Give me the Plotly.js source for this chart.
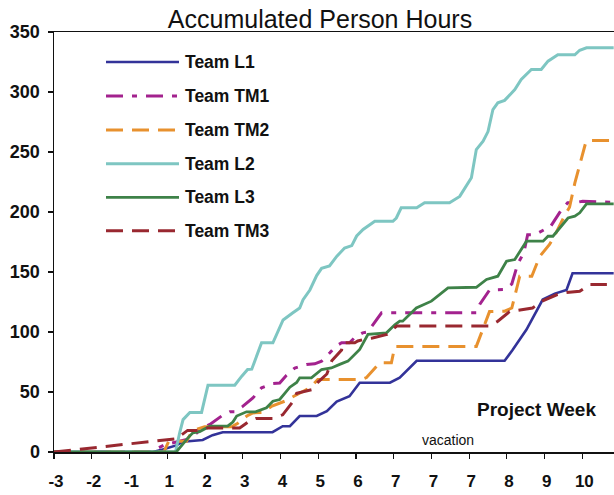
<!DOCTYPE html>
<html>
<head>
<meta charset="utf-8">
<script src="https://cdn.plot.ly/plotly-3.0.1.min.js"></script>
<style>html,body{margin:0;padding:0;background:#fff;}#chart{width:614px;height:495px;}</style>
</head>
<body>
<div id="chart"></div>
<script>
// Week tick labels (equally spaced positions)
const weekLabels = ["-3","-2","-1","1","2","3","4","5","6","7","7","7","8","9","10"];
const seriesNames = ["Team L1","Team TM1","Team TM2","Team L2","Team L3","Team TM3"];

// x in week-slot units (0 = first tick), y = accumulated person hours
const l1X = [0, 2.62, 2.88, 3.24, 3.41, 3.94, 4.2, 4.47, 5.79, 5.93, 6.06, 6.25, 6.51, 6.96, 7.23, 7.49, 7.83, 8.1, 8.9, 9.16, 9.61, 11.94, 12.15, 12.52, 12.95, 13.27, 13.58, 13.74, 14.83];
const l1Y = [0, 0, 2, 5.5, 8.5, 10, 14, 16.5, 16.5, 19, 21.5, 21.5, 30, 30, 34, 42, 46.5, 57.7, 57.7, 62, 76, 76, 85, 102, 127, 132, 135, 149, 149];

const tm1X = [0, 2.54, 2.93, 3.33, 3.52, 3.75, 3.94, 4.13, 4.44, 4.66, 4.79, 5.0, 5.27, 5.5, 5.58, 5.8, 5.98, 6.16, 6.38, 6.69, 6.91, 7.09, 7.31, 7.46, 7.62, 7.83, 7.99, 8.18, 8.31, 8.44, 8.68, 11.19, 11.28, 11.54, 11.94, 12.13, 12.29, 12.45, 12.55, 12.74, 13.0, 13.14, 13.32, 13.45, 13.61, 13.8, 14.01, 14.83];
const tm1Y = [0, 0, 6, 9, 10.4, 15, 20, 23, 30, 33.5, 33.5, 38, 45, 53.5, 54.5, 57, 57.5, 64, 70, 73, 73.5, 75.7, 82.7, 88, 91, 91, 96, 99.3, 100, 106, 116, 116, 123, 135, 135.4, 140, 157, 166, 181, 181, 185.4, 187, 196, 202, 207.7, 207.7, 209, 208];

const tm2X = [0, 2.91, 3.04, 3.51, 3.6, 3.73, 3.99, 4.71, 4.87, 5.11, 5.27, 5.53, 5.76, 6.11, 6.33, 6.51, 6.78, 6.99, 8.15, 8.28, 8.42, 8.63, 8.94, 9.03, 11.19, 11.25, 11.39, 11.54, 11.94, 12.13, 12.29, 12.34, 12.66, 12.87, 13.13, 13.26, 13.53, 13.66, 13.8, 13.93, 14.09, 14.14, 14.83];
const tm2Y = [0, 0, 9, 9, 14, 18.5, 21, 21, 24, 30, 32.6, 33, 38, 42.3, 46, 49, 53.5, 60.4, 60.4, 62, 67.3, 74.3, 74.3, 88, 88, 93, 105, 117, 117.3, 120, 140, 146.5, 146.5, 163, 173, 180, 197, 204, 224, 240, 258, 259.6, 259.6];

const l2X = [0, 3.22, 3.33, 3.42, 3.6, 3.91, 4.08, 4.79, 4.97, 5.13, 5.24, 5.5, 5.8, 6.07, 6.33, 6.51, 6.6, 6.78, 6.96, 7.09, 7.3, 7.49, 7.7, 7.89, 8.02, 8.19, 8.5, 8.98, 9.07, 9.2, 9.61, 9.82, 10.48, 10.75, 11.06, 11.19, 11.37, 11.5, 11.63, 11.76, 11.94, 12.21, 12.38, 12.65, 12.91, 13.09, 13.35, 13.8, 13.93, 14.11, 14.83];
const l2Y = [0, 0, 16, 27, 33, 33, 55.7, 55.7, 63, 68.7, 69, 91, 91, 110, 116, 120, 127, 135, 147, 153, 155, 163, 170, 172, 180, 185.4, 192.3, 192.3, 195, 203.5, 203.5, 207.7, 207.7, 213, 228.5, 252, 259, 267, 285.4, 291, 293, 302, 310.4, 318.75, 318.75, 325.7, 331, 331, 334.8, 336.8, 336.8];

const l3X = [0, 3.24, 3.55, 3.68, 3.86, 4.13, 4.6, 4.74, 4.84, 5.1, 5.34, 5.63, 5.8, 5.98, 6.25, 6.43, 6.51, 6.82, 7.09, 7.35, 7.57, 7.79, 8.1, 8.32, 8.81, 9.03, 9.16, 9.24, 9.6, 10.0, 10.44, 11.19, 11.46, 11.76, 11.99, 12.21, 12.52, 12.96, 13.09, 13.22, 13.62, 13.8, 13.93, 14.11, 14.83];
const l3Y = [0, 0, 11.8, 16, 17, 21.5, 21.5, 25, 30, 33.5, 33.5, 36.8, 42.3, 43.75, 54, 58, 61.8, 61.8, 68.75, 70, 73, 75.7, 85.4, 98, 99.3, 106, 109, 109, 120, 125.7, 136.8, 137.3, 143.75, 146.5, 159, 160.4, 175.7, 175.7, 179.8, 179.8, 195, 196.5, 199.3, 206.8, 206.8];

const tm3X = [0, 3.0, 3.24, 3.54, 3.86, 4.07, 4.92, 5.19, 5.36, 5.8, 6.06, 6.33, 6.43, 6.83, 6.99, 7.23, 7.36, 7.62, 7.65, 7.97, 8.05, 8.23, 8.44, 8.82, 9.08, 11.54, 11.76, 12.07, 12.68, 12.95, 13.32, 13.58, 13.93, 14.2, 14.65];
const tm3Y = [0, 10.5, 11, 18, 18, 20, 20, 26, 28, 28, 31, 42, 49, 52, 58, 65, 76, 85, 91, 91, 92.5, 94, 95, 98, 105, 105, 109, 117, 120, 126, 131, 133, 134, 139.6, 139.6];

// styles
const colors = ["#333399", "#A3228E", "#E8912E", "#7EC6C2", "#3E8248", "#992830"];
const dashes = ["solid", "17px,9px,5px,9px", "17px,9px", "solid", "solid", "17px,9px"];
const widths = [2.6, 3, 3, 3, 2.8, 3];

const xs = [l1X, tm1X, tm2X, l2X, l3X, tm3X];
const ys = [l1Y, tm1Y, tm2Y, l2Y, l3Y, tm3Y];

const traces = xs.map((x, i) => ({
  x: x, y: ys[i], type: "scatter", mode: "lines", name: seriesNames[i],
  line: {color: colors[i], width: widths[i], dash: dashes[i]},
  showlegend: false, hoverinfo: "skip"
}));

// custom legend geometry (plot area: x 54..614 px, y 32..452.5 px)
const L = 54, R = 614, T = 32, B = 452.5;
const px2x = p => (p - L) / (R - L);
const px2y = p => (B - p) / (B - T);
const legendRows = [62, 96, 130, 164, 197.5, 231];

const shapes = [];
const annotations = [];
seriesNames.forEach((n, i) => {
  shapes.push({type: "line", xref: "paper", yref: "paper",
    x0: px2x(106), x1: px2x(179), y0: px2y(legendRows[i]), y1: px2y(legendRows[i]),
    line: {color: colors[i], width: widths[i], dash: dashes[i]}});
  annotations.push({xref: "paper", yref: "paper", x: px2x(183), y: px2y(legendRows[i]),
    xanchor: "left", yanchor: "middle", showarrow: false, text: "<b>" + n + "</b>",
    font: {family: "Liberation Sans, Arial, sans-serif", size: 17.5, color: "#111"}});
});
annotations.push({xref: "paper", yref: "paper", x: px2x(536), y: px2y(410), xanchor: "center", yanchor: "middle",
  showarrow: false, text: "<b>Project Week</b>", font: {family: "Liberation Sans, Arial, sans-serif", size: 19, color: "#111"}});
annotations.push({xref: "paper", yref: "paper", x: px2x(448), y: px2y(440), xanchor: "center", yanchor: "middle",
  showarrow: false, text: "vacation", font: {family: "Liberation Sans, Arial, sans-serif", size: 14, color: "#111"}});

const layout = {
  width: 614, height: 495,
  margin: {l: L, r: 0, t: T, b: 495 - B, pad: 0},
  paper_bgcolor: "#fff", plot_bgcolor: "#fff",
  title: {text: "Accumulated Person Hours", x: 320 / 614, xanchor: "center", y: 1 - 19 / 495, yanchor: "middle",
    font: {family: "Liberation Sans, Arial, sans-serif", size: 25, color: "#111"}},
  xaxis: {range: [0, (R - L) / 37.74], tickmode: "array", tickvals: weekLabels.map((_, i) => i), ticktext: weekLabels,
    showgrid: false, zeroline: false, showline: true, linecolor: "#111", linewidth: 1.5, mirror: true,
    ticks: "outside", ticklen: 5, tickwidth: 1.2, tickcolor: "#111", ticklabelstandoff: 8, ticklabelshift: 2,
    tickfont: {family: "Liberation Sans, Arial, sans-serif", size: 17, color: "#111", weight: "bold"}},
  yaxis: {range: [0, 350], tickmode: "array", tickvals: [0, 50, 100, 150, 200, 250, 300, 350],
    showgrid: false, zeroline: false, showline: true, linecolor: "#111", linewidth: 1.5,
    ticks: "outside", ticklen: 5, tickwidth: 1.2, tickcolor: "#111", ticklabelstandoff: 4,
    tickfont: {family: "Liberation Sans, Arial, sans-serif", size: 18, color: "#111", weight: "bold"}},
  shapes: shapes, annotations: annotations
};

Plotly.newPlot("chart", traces, layout, {displayModeBar: false, staticPlot: true});
</script>
</body>
</html>
